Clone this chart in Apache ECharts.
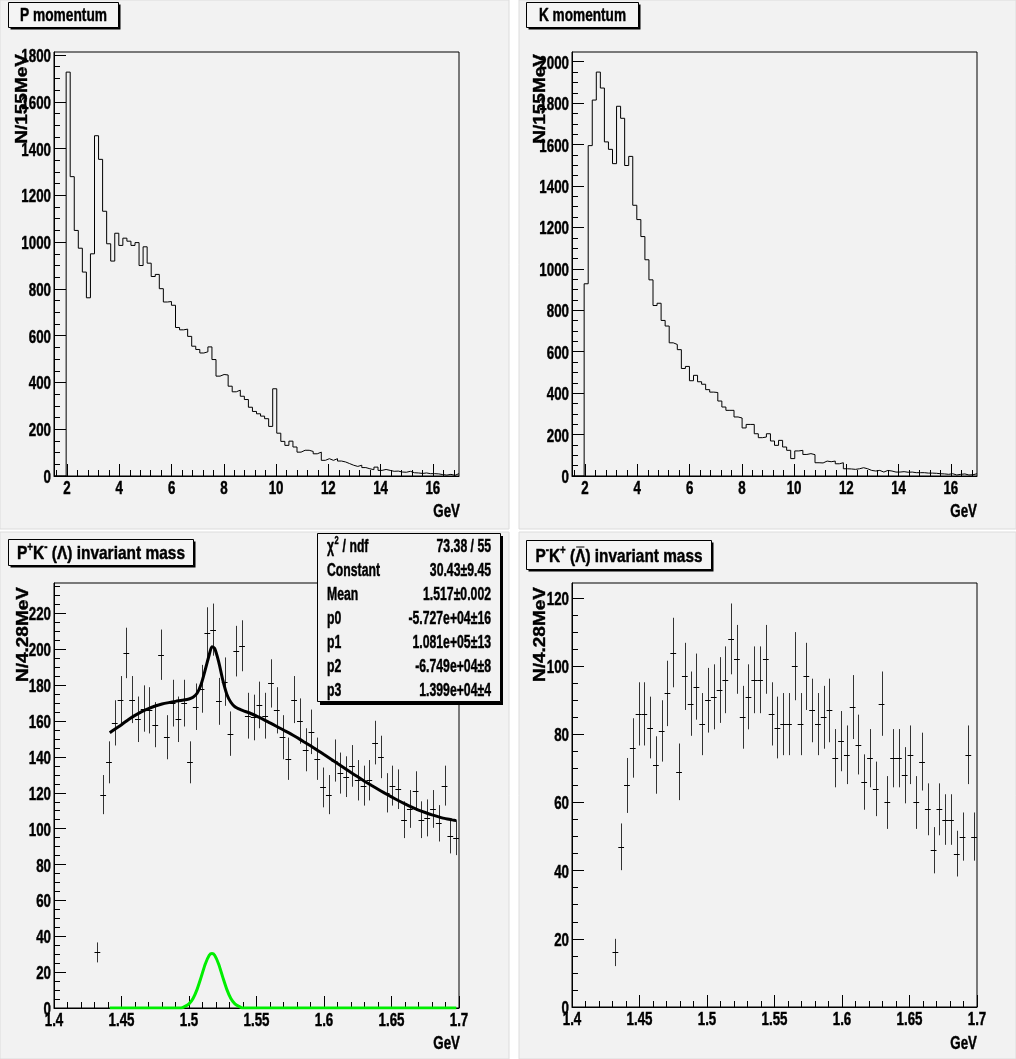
<!DOCTYPE html>
<html><head><meta charset="utf-8">
<script src="https://cdn.jsdelivr.net/npm/echarts@6/dist/echarts.min.js"></script>
<style>html,body{margin:0;padding:0;background:#fff}#c{width:1016px;height:1059px}</style>
</head><body><div id="c"></div>
<script>
const FAM = "'Liberation Sans', Arial, sans-serif";

// ---- Momentum histograms: 100 bins of 155 MeV from 1.5 to 17 GeV ----
const momBinLow = 1.5, momBinWidth = 0.155, momMax = 17;
const pMomentum = [0,0,0,1727,1280,1050,974,872,762,950,
  1455,1354,1132,993,919,1038,986,1017,1004,986,
  998,900,980,910,853,862,801,744,746,730,
  635,625,628,597,555,541,526,531,552,498,
  427,434,432,384,360,367,341,327,294,276,
  266,256,245,212,373,183,148,131,149,124,
  102,110,110,105,95,102,67,74,67,74,
  64,60,53,46,41,46,36,31,27,38,
  24,28,24,20,21,17,16,20,14,13,
  11,13,10,10,9,6,4,7,3,10];
const kMomentum = [0,0,0,928,1595,1815,1950,1873,1613,1577,
  1508,1785,1727,1499,1543,1307,1238,1156,1044,947,
  823,834,751,724,643,635,610,519,529,460,
  486,455,443,417,405,403,362,333,317,317,
  285,280,232,249,249,204,185,188,204,169,
  148,172,140,124,84,121,124,104,108,103,
  64,63,72,69,72,59,64,35,34,32,
  35,40,35,27,24,27,19,27,24,19,
  19,21,18,19,16,16,16,14,14,13,
  11,10,8,11,5,8,10,5,6,11];
const pMomYMax = 1813, kMomYMax = 2047;
const momXTicks = [2,4,6,8,10,12,14,16];
const pMomYTicks = [0,200,400,600,800,1000,1200,1400,1600,1800];
const kMomYTicks = [0,200,400,600,800,1000,1200,1400,1600,1800,2000];

// ---- Invariant mass: 70 bins of 4.2857 MeV from 1.4 to 1.7 GeV ----
const massLow = 1.4, massHigh = 1.7, massBins = 70;
const lambdaMass = [0,0,0,0,0,0,0,31,119,137,
  159,172,198,172,161,167,166,158,197,151,
  170,161,170,137,168,178,209,211,171,182,
  153,199,202,163,162,169,163,181,166,151,
  139,172,160,144,154,139,123,119,138,131,
  129,135,127,124,127,148,140,120,124,122,
  105,111,121,105,106,111,103,124,96,95];
const antiLambdaMass = [0,0,0,0,0,0,0,16,47,65,
  76,86,86,82,71,81,92,104,69,97,
  89,94,83,90,91,93,96,108,102,85,
  91,96,96,102,86,82,83,83,100,83,
  97,87,83,85,87,73,78,74,88,77,
  66,73,64,89,60,73,73,68,74,60,
  72,58,46,58,55,55,45,50,74,50];
const lambdaYMax = 237, antiLambdaYMax = 124.4;
const massXTicks = [1.4,1.45,1.5,1.55,1.6,1.65,1.7];
const lambdaYTicks = [0,20,40,60,80,100,120,140,160,180,200,220];
const antiLambdaYTicks = [0,20,40,60,80,100,120];

// Fit curves (total fit, and its gaussian component)
const fitX = [1.4413,1.445,1.45,1.455,1.46,1.465,1.47,1.475,1.48,1.485,1.49,1.495,1.50,1.503,1.506,1.509,1.512,1.515,1.517,1.519,1.522,1.525,1.528,1.531,1.534,1.537,1.54,1.545,1.55,1.555,1.56,1.565,1.57,1.575,1.58,1.585,1.59,1.595,1.60,1.605,1.61,1.615,1.62,1.625,1.63,1.635,1.64,1.645,1.65,1.655,1.66,1.665,1.67,1.675,1.68,1.685,1.69,1.695,1.698];
const fitY = [153.5,155.5,158,160.8,163.2,165.3,167,168.4,169.5,170.3,171,171.6,172.3,173.3,175.5,180.5,188.5,197,201.5,200.5,193,183,175,170.5,168,166.8,165.8,164.5,162.8,161,159,157,155,153,150.8,148.5,146.2,143.8,141.3,138.8,136.3,133.8,131.3,128.9,126.5,124.2,122,119.8,117.7,115.7,113.8,112,110.4,109,107.7,106.6,105.6,104.9,104.5];
const gausX = [1.4413,1.494,1.497,1.500,1.503,1.506,1.509,1.512,1.515,1.517,1.519,1.522,1.525,1.528,1.531,1.534,1.537,1.540,1.698];
const gausY = [0,0,0.9,2.3,5.3,10.4,17.2,24.4,29.4,30.4,29.4,24.4,17.2,10.4,5.3,2.3,0.9,0,0];

const statsLabels = ['χ', 'Constant', 'Mean', 'p0', 'p1', 'p2', 'p3'];
const statsValues = ['73.38 / 55', '30.43±9.45', '1.517±0.002', '-5.727e+04±16', '1.081e+05±13', '-6.749e+04±8', '1.399e+04±4'];

// ---- helpers ----
function range(a, b, step, skip) {
  const out = [];
  for (let v = a; v <= b + 1e-9; v += step) {
    const r = Math.round(v * 10000) / 10000;
    if (!skip || !skip.some(s => Math.abs(s - r) < 1e-6)) out.push(r);
  }
  return out;
}
const grids = [
  {left: 54, top: 52, width: 405, height: 424},
  {left: 572, top: 52, width: 405, height: 424},
  {left: 54, top: 583, width: 405, height: 425},
  {left: 572, top: 583, width: 405, height: 424}
];
const xAxes = [], yAxes = [];
function addAxes(g, xr, yr, xMaj, xMin, yMaj, yMin) {
  const base = {gridIndex: g, type: 'value', splitLine: {show: false}, axisLabel: {show: false}};
  xAxes.push(Object.assign({}, base, {min: xr[0], max: xr[1], position: 'bottom',
    axisLine: {show: true, onZero: false, lineStyle: {color: '#000', width: 1}},
    axisTick: {show: true, inside: true, length: 12, customValues: xMaj, lineStyle: {color: '#000', width: 1}}}));
  xAxes.push(Object.assign({}, base, {min: xr[0], max: xr[1], position: 'bottom',
    axisLine: {show: false, onZero: false},
    axisTick: {show: true, inside: true, length: 6, customValues: xMin, lineStyle: {color: '#000', width: 1}}}));
  yAxes.push(Object.assign({}, base, {min: yr[0], max: yr[1], position: 'left',
    axisLine: {show: true, onZero: false, lineStyle: {color: '#000', width: 1}},
    axisTick: {show: true, inside: true, length: 12, customValues: yMaj, lineStyle: {color: '#000', width: 1}}}));
  yAxes.push(Object.assign({}, base, {min: yr[0], max: yr[1], position: 'left',
    axisLine: {show: false, onZero: false},
    axisTick: {show: true, inside: true, length: 6, customValues: yMin, lineStyle: {color: '#000', width: 1}}}));
}
const momXMinor = range(1.6, 16.8, 0.4, momXTicks);
addAxes(0, [momBinLow, momMax], [0, pMomYMax], momXTicks, momXMinor, pMomYTicks, range(50, 1800, 50, pMomYTicks));
addAxes(1, [momBinLow, momMax], [0, kMomYMax], momXTicks, momXMinor, kMomYTicks, range(50, 2000, 50, kMomYTicks));
const massXMinor = range(1.41, 1.69, 0.01, massXTicks);
addAxes(2, [massLow, massHigh], [0, lambdaYMax], massXTicks, massXMinor, lambdaYTicks, range(5, 235, 5, lambdaYTicks));
addAxes(3, [massLow, massHigh], [0, antiLambdaYMax], massXTicks, massXMinor, antiLambdaYTicks, range(5, 120, 5, antiLambdaYTicks));

function histData(vals) {
  const d = vals.map((v, k) => [momBinLow + k * momBinWidth, v]);
  d.push([momBinLow + vals.length * momBinWidth, vals[vals.length - 1]]);
  return d;
}
const massBinW = (massHigh - massLow) / massBins;
function pointData(vals) {
  const d = [];
  vals.forEach((v, i) => { if (v > 0) d.push([massLow + (i + 0.5) * massBinW, v, Math.sqrt(v)]); });
  return d;
}
function errRender(params, api) {
  const x = api.value(0), y = api.value(1), e = api.value(2);
  const c = api.coord([x, y]);
  const hi = api.coord([x, y + e]), lo = api.coord([x, y - e]);
  const l = api.coord([x - massBinW / 2, y]), r = api.coord([x + massBinW / 2, y]);
  const cx = Math.round(c[0]) + 0.5, cy = Math.round(c[1]) + 0.5;
  return {type: 'group', children: [
    {type: 'line', shape: {x1: cx, y1: hi[1], x2: cx, y2: lo[1]}, style: {stroke: '#333', lineWidth: 1}},
    {type: 'line', shape: {x1: l[0], y1: cy, x2: r[0], y2: cy}, style: {stroke: '#000', lineWidth: 1}}
  ]};
}
const zip = (xs, ys) => xs.map((x, i) => [x, ys[i]]);

const series = [
  {type: 'line', xAxisIndex: 0, yAxisIndex: 0, data: histData(pMomentum), step: 'end', symbol: 'none',
   lineStyle: {color: '#000', width: 1}, z: 3},
  {type: 'line', xAxisIndex: 2, yAxisIndex: 2, data: histData(kMomentum), step: 'end', symbol: 'none',
   lineStyle: {color: '#000', width: 1}, z: 3},
  {type: 'custom', xAxisIndex: 4, yAxisIndex: 4, data: pointData(lambdaMass), renderItem: errRender, z: 3},
  {type: 'line', xAxisIndex: 4, yAxisIndex: 4, data: zip(gausX, gausY), smooth: 0.25,
   symbol: 'none', lineStyle: {color: '#00ee00', width: 3}, z: 4},
  {type: 'line', xAxisIndex: 4, yAxisIndex: 4, data: zip(fitX, fitY), smooth: 0.25,
   symbol: 'none', lineStyle: {color: '#000', width: 3}, z: 4},
  {type: 'custom', xAxisIndex: 6, yAxisIndex: 6, data: pointData(antiLambdaMass), renderItem: errRender, z: 3}
];

const chart = echarts.init(document.getElementById('c'), null, {renderer: 'canvas'});
chart.setOption({
  animation: false,
  backgroundColor: '#ffffff',
  grid: grids.map(g => Object.assign({show: true, borderColor: '#000', borderWidth: 1, backgroundColor: 'transparent', containLabel: false}, g)),
  xAxis: xAxes,
  yAxis: yAxes,
  series: series
});

// ---- text and decorations (condensed bold text like the original) ----
const mctx = document.createElement('canvas').getContext('2d');
function measure(t, size) { mctx.font = 'bold ' + size + 'px ' + FAM; return mctx.measureText(t).width; }
const graphic = [];
function txt(x, y, text, align, size, sx, sy, rot) {
  graphic.push({type: 'text', z: 30, x: x, y: y, scaleX: sx || 1, scaleY: sy || 1, rotation: rot || 0, silent: true,
    style: {text: text, align: align, verticalAlign: 'middle', fill: '#000', stroke: '#000', lineWidth: 0.45,
      font: 'bold ' + size + 'px ' + FAM}});
}
// pads
[[0,0,509,529],[519,0,497,529],[0,532,509,527],[519,532,497,527]].forEach(p => {
  graphic.push({type: 'rect', z: -10, silent: true, shape: {x: p[0], y: p[1], width: p[2], height: p[3]},
    style: {fill: '#f2f2f2', stroke: '#dcdcdc', lineWidth: 1}});
});
// tick labels placed through the axes' scales
const TICK = 18, TSX = 0.74;
function xLabels(ai, vals, yAxisPix) {
  vals.forEach(v => txt(chart.convertToPixel({xAxisIndex: ai}, v), yAxisPix + 13, String(v), 'center', TICK, TSX));
}
function yLabels(ai, vals, xAxisPix) {
  vals.forEach(v => txt(xAxisPix - 3, chart.convertToPixel({yAxisIndex: ai}, v) + 2, String(v), 'right', TICK, TSX));
}
xLabels(0, momXTicks, 476); yLabels(0, pMomYTicks, 54);
xLabels(2, momXTicks, 476); yLabels(2, kMomYTicks, 572);
xLabels(4, massXTicks, 1008); yLabels(4, lambdaYTicks, 54);
xLabels(6, massXTicks, 1007); yLabels(6, antiLambdaYTicks, 572);
// axis titles
[[460,512],[977,512],[460,1044],[977,1044]].forEach(p => txt(p[0], p[1], 'GeV', 'right', 18, 0.74));
txt(23, 54, 'N/155MeV', 'right', 19, 1, 0.82, Math.PI / 2);
txt(541, 54, 'N/155MeV', 'right', 19, 1, 0.82, Math.PI / 2);
txt(24, 587, 'N/4.28MeV', 'right', 19, 1, 0.82, Math.PI / 2);
txt(541, 587, 'N/4.28MeV', 'right', 19, 1, 0.82, Math.PI / 2);

// title boxes built from tokens (sup = superscript, bar = overline)
function titleBox(bx, by, bw, bh, tokens, targetW) {
  graphic.push({type: 'rect', z: 20, silent: true, shape: {x: bx + 2, y: by + 2, width: bw, height: bh}, style: {fill: '#000'}});
  graphic.push({type: 'rect', z: 21, silent: true, shape: {x: bx, y: by, width: bw, height: bh}, style: {fill: '#f4f4f4', stroke: '#000', lineWidth: 1}});
  const sizes = tokens.map(t => t.sup ? 12 : 19);
  const raw = tokens.reduce((s, t, i) => s + measure(t.t, sizes[i]), 0);
  const sx = targetW / raw;
  let cx = bx + bw / 2 - targetW / 2;
  const cy = by + bh / 2 + (tokens.some(t => t.bar) ? 2 : 1);
  tokens.forEach((t, i) => {
    const w = measure(t.t, sizes[i]) * sx;
    txt(cx, t.sup ? cy - 6 : cy, t.t, 'left', sizes[i], sx);
    if (t.bar) {
      graphic.push({type: 'line', z: 31, silent: true, shape: {x1: cx + 1, y1: cy - 10, x2: cx + w - 1, y2: cy - 10}, style: {stroke: '#000', lineWidth: 1}});
    }
    cx += w;
  });
}
titleBox(8.5, 2.5, 110, 25, [{t: 'P momentum'}], 87);
titleBox(526.5, 2.5, 112, 25, [{t: 'K momentum'}], 87);
titleBox(8.5, 539.5, 185, 26, [{t: 'P'}, {t: '+', sup: 1}, {t: 'K'}, {t: '-', sup: 1}, {t: ' (Λ) invariant mass'}], 168);
titleBox(526.5, 540.5, 185, 29, [{t: 'P'}, {t: '-', sup: 1}, {t: 'K'}, {t: '+', sup: 1}, {t: ' ('}, {t: 'Λ', bar: 1}, {t: ') invariant mass'}], 167);

// stats box
graphic.push({type: 'rect', z: 20, silent: true, shape: {x: 320, y: 536, width: 183, height: 169}, style: {fill: '#000'}});
graphic.push({type: 'rect', z: 21, silent: true, shape: {x: 317.5, y: 533.5, width: 183, height: 168}, style: {fill: '#f2f2f2', stroke: '#000', lineWidth: 1}});
const SSZ = 18, SSX = 0.68;
statsLabels.forEach((name, i) => {
  const y = 547 + 24 * i;
  if (i === 0) {
    const w1 = measure('χ', SSZ) * SSX, w2 = measure('2', 11) * SSX;
    txt(327, y, 'χ', 'left', SSZ, SSX);
    txt(327 + w1 + 0.5, y - 6, '2', 'left', 11, SSX);
    txt(327 + w1 + w2 + 1, y, ' / ndf', 'left', SSZ, SSX);
  } else {
    txt(327, y, name, 'left', SSZ, SSX);
  }
  txt(491, y, statsValues[i], 'right', SSZ, SSX);
});
chart.setOption({graphic: graphic});
</script></body></html>
